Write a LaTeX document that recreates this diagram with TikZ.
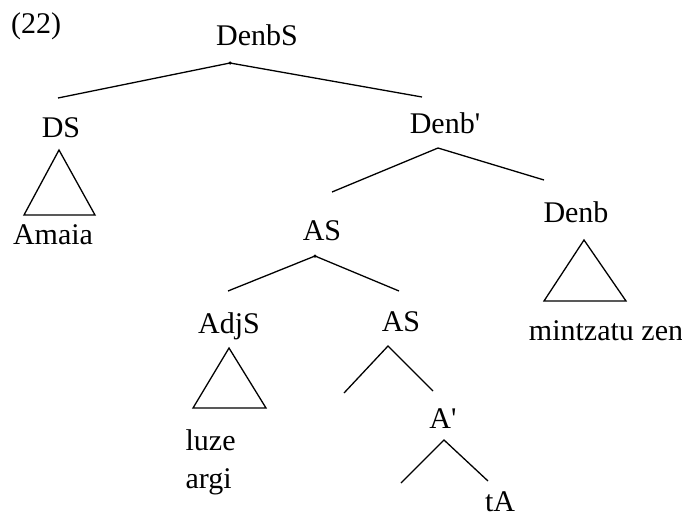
\documentclass[tikz,border=0pt]{standalone}
\usepackage{fontspec}
\setmainfont{Liberation Serif}
\usetikzlibrary{positioning}

\begin{document}
\begin{tikzpicture}[
        x=1pt, y=-1pt,
        line width=1.3pt,
        font=\fontsize{30}{34}\selectfont,
        cat/.style={inner sep=0pt, anchor=base},
        leaf/.style={inner sep=0pt, anchor=base west},
        branch/.style={draw=black},
        roof/.style={draw=black, line join=miter},
        knot/.style={circle, fill=black, inner sep=0pt, minimum size=3.5pt}
    ]
    \useasboundingbox (0,0) rectangle (682,517);

    % Nodes
    \node [cat] (num) at (36,33) {(22)};
    \node [cat] (denbS) at (257,45) {DenbS};
    \node [cat] (ds) at (61,137) {DS};
    \node [cat] (denbbar) at (445,133) {Denb\textquotesingle};
    \node [cat] (amaia) at (53,244) {Amaia};
    \node [cat] (as) at (322,240) {AS};
    \node [cat] (denb) at (576,222) {Denb};
    \node [cat] (mintz) at (606,340) {mintzatu zen};
    \node [cat] (adjs) at (229,333) {AdjS};
    \node [cat] (aslow) at (401,331) {AS};
    \node [leaf] (luze) at (185,450) {luze};
    \node [leaf] (argi) at (185,488) {argi};
    \node [cat] (abar) at (443,428) {A\textquotesingle};
    \node [cat] (ta) at (500,511) {tA};

    % Branch points
    \coordinate (denbS-top) at (230,63);
    \coordinate (ds-end) at (58,98);
    \coordinate (denbbar-end) at (422,97);
    \coordinate (denbbar-top) at (438,148);
    \coordinate (as-end) at (332,192);
    \coordinate (denb-end) at (544,180);
    \coordinate (as-top) at (315,256);
    \coordinate (adjs-end) at (228,291);
    \coordinate (aslow-end) at (399,291);
    \coordinate (aslow-top) at (388,346);
    \coordinate (spec-end) at (344,393);
    \coordinate (abar-end) at (433,391);
    \coordinate (abar-top) at (444,440);
    \coordinate (comp-end) at (401,483);
    \coordinate (ta-end) at (488,481);

    % Roofs
    \coordinate (ds-a) at (59,150);
    \coordinate (ds-l) at (24,215);
    \coordinate (ds-r) at (95,215);
    \coordinate (denb-a) at (584,240);
    \coordinate (denb-l) at (544,301);
    \coordinate (denb-r) at (626,301);
    \coordinate (adjs-a) at (229,348);
    \coordinate (adjs-l) at (193,408);
    \coordinate (adjs-r) at (266,408);

    % Connections
    \path [branch] (ds-end) -- (denbS-top) -- (denbbar-end);
    \path [branch] (as-end) -- (denbbar-top) -- (denb-end);
    \path [branch] (adjs-end) -- (as-top) -- (aslow-end);
    \path [branch] (spec-end) -- (aslow-top) -- (abar-end);
    \path [branch] (comp-end) -- (abar-top) -- (ta-end);
    \node [knot] at (denbS-top) {};
    \node [knot] at (as-top) {};

    \path [roof] (ds-a) -- (ds-l) -- (ds-r) -- cycle;
    \path [roof] (denb-a) -- (denb-l) -- (denb-r) -- cycle;
    \path [roof] (adjs-a) -- (adjs-l) -- (adjs-r) -- cycle;

\end{tikzpicture}
\end{document}
